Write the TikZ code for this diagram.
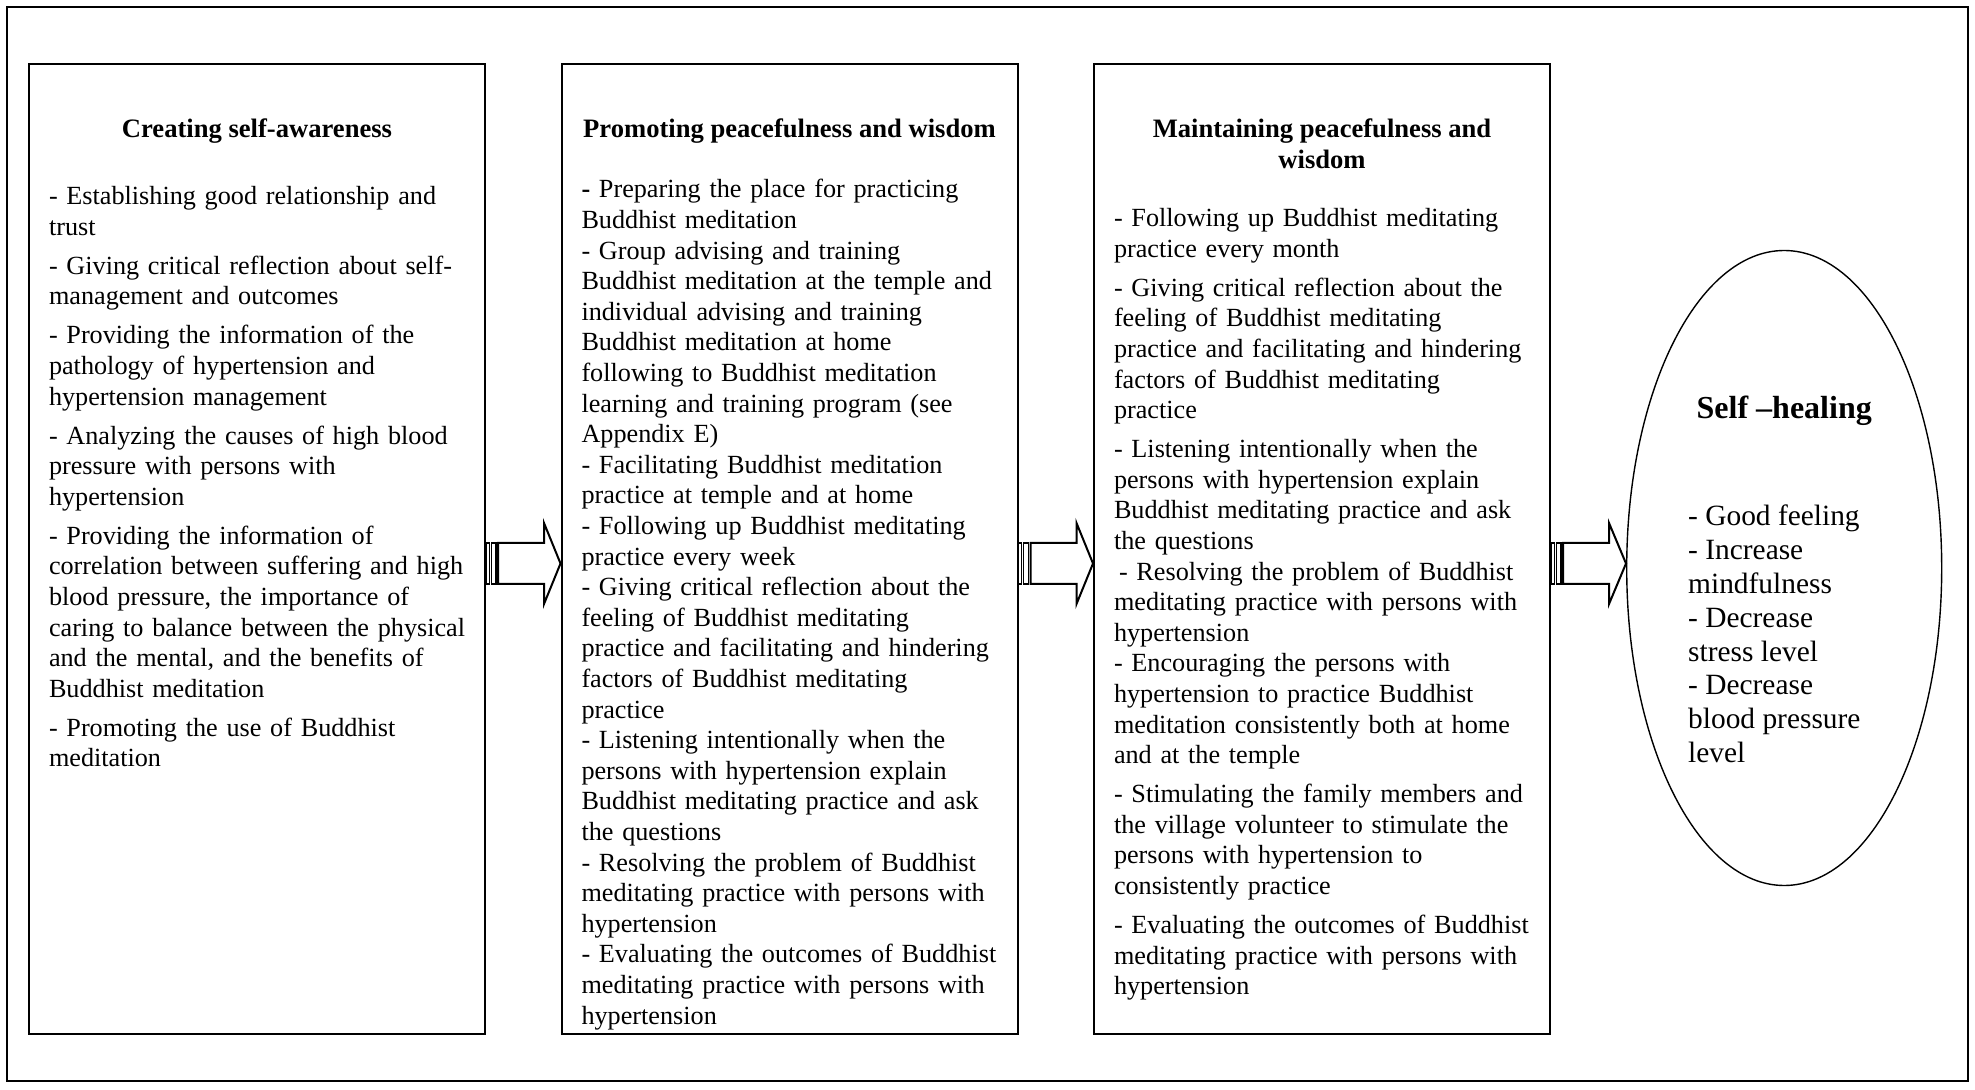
\documentclass[tikz,border=0pt]{standalone}
\usepackage{fontspec}
\setmainfont{Liberation Serif}
\usetikzlibrary{shapes,positioning}

\begin{document}
\begin{tikzpicture}[
  x=1pt,y=1pt,
  line width=1pt,
  box/.style={draw,rectangle,minimum width=228pt,minimum height=485pt,inner sep=0pt},
  head/.style={font=\fontsize{13.3}{15.3}\selectfont\bfseries,align=center,inner sep=0pt},
  body/.style={font=\fontsize{13.1}{15.3}\selectfont,text width=212pt,align=left,inner sep=0pt,anchor=north west},
  bar/.style={line width=.6pt},
  node distance=37.25pt,
  ]
  \useasboundingbox (0,0) rectangle (987.5,-545);
  \draw (3.5,-3.5) rectangle (984,-540.5);

  \node[box] (b1) at (128.5,-274.5) {};
  \node[box, right=of b1] (b2) {};
  \node[box, right=of b2] (b3) {};
  \node[draw, ellipse, line width=.7pt, minimum width=157.5pt, minimum height=317.5pt, inner sep=0pt, right=37.5pt of b3, yshift=-9.5pt] (heal) {};

  \node[head, below=27.5pt of b1.north] (t1) {Creating self-awareness};
  \node[head, below=27.5pt of b2.north] (t2) {Promoting peacefulness and wisdom};
  \node[head, below=27.5pt of b3.north] (t3) {Maintaining peacefulness and\\wisdom};

  \node[body, below right=61.25pt and 10pt of b1.north west] (l1) {- Establishing good relationship and\\trust\\[4.2pt]
    - Giving critical reflection about self-\\management and outcomes\\[4.2pt]
    - Providing the information of the\\pathology of hypertension and\\hypertension management\\[4.2pt]
    - Analyzing the causes of high blood\\pressure with persons with\\hypertension\\[4.2pt]
    - Providing the information of\\correlation between suffering and high\\blood pressure, the importance of\\caring to balance between the physical\\and the mental, and the benefits of\\Buddhist meditation\\[4.2pt]
    - Promoting the use of Buddhist\\meditation};
  \begin{scope}
    \clip ([yshift=3pt]b2.south west) rectangle (b2.north east);
    \node[body, below right=57.75pt and 10pt of b2.north west] (l2) {\textbf{-} Preparing the place for practicing\\Buddhist meditation\\
      - Group advising and training\\Buddhist meditation at the temple and\\individual advising and training\\Buddhist meditation at home\\following to Buddhist meditation\\learning and training program (see\\Appendix E)\\
      - Facilitating Buddhist meditation\\practice at temple and at home\\
      - Following up Buddhist meditating\\practice every week\\
      - Giving critical reflection about the\\feeling of Buddhist meditating\\practice and facilitating and hindering\\factors of Buddhist meditating\\practice\\
      - Listening intentionally when the\\persons with hypertension explain\\Buddhist meditating practice and ask\\the questions\\
      - Resolving the problem of Buddhist\\meditating practice with persons with\\hypertension\\
      - Evaluating the outcomes of Buddhist\\meditating practice with persons with\\hypertension};
  \end{scope}
  \node[body, below right=72.25pt and 10pt of b3.north west] (l3) {- Following up Buddhist meditating\\practice every month\\[4.2pt]
    - Giving critical reflection about the\\feeling of Buddhist meditating\\practice and facilitating and hindering\\factors of Buddhist meditating\\practice\\[4.2pt]
    - Listening intentionally when the\\persons with hypertension explain\\Buddhist meditating practice and ask\\the questions\\
    \hspace*{2.5pt}- Resolving the problem of Buddhist\\meditating practice with persons with\\hypertension\\
    - Encouraging the persons with\\hypertension to practice Buddhist\\meditation consistently both at home\\and at the temple\\[4.2pt]
    - Stimulating the family members and\\the village volunteer to stimulate the\\persons with hypertension to\\consistently practice\\[4.2pt]
    - Evaluating the outcomes of Buddhist\\meditating practice with persons with\\hypertension};

  \node[font=\fontsize{16}{18.4}\selectfont\bfseries, inner sep=0pt] (ht) at ([yshift=78.5pt]heal.center) {Self –healing};
  \node[font=\fontsize{14.7}{16.9}\selectfont, align=left, inner sep=0pt, anchor=north west] (hl) at ([shift={(-48.5pt,31.9pt)}]heal.center) {- Good feeling\\- Increase\\mindfulness\\- Decrease\\stress level\\- Decrease\\blood pressure\\level};

  \foreach \a/\b in {b1/b2,b2/b3,b3/heal}{
    \coordinate (s) at ([yshift=-7.25pt]\a.east);
    \draw[bar] ([yshift=10.25pt]s) rectangle ([shift={(1.65pt,-10.25pt)}]s);
    \draw[bar] ([shift={(2.65pt,10.25pt)}]s) rectangle ([shift={(5pt,-10.25pt)}]s);
    \draw ([shift={(6pt,10.25pt)}]s) -- ([shift={(29pt,10.25pt)}]s) -- ([shift={(29pt,20.25pt)}]s) -- (s -| \b.west) -- ([shift={(29pt,-20.25pt)}]s) -- ([shift={(29pt,-10.25pt)}]s) -- ([shift={(6pt,-10.25pt)}]s) -- cycle;
  }
\end{tikzpicture}
\end{document}
